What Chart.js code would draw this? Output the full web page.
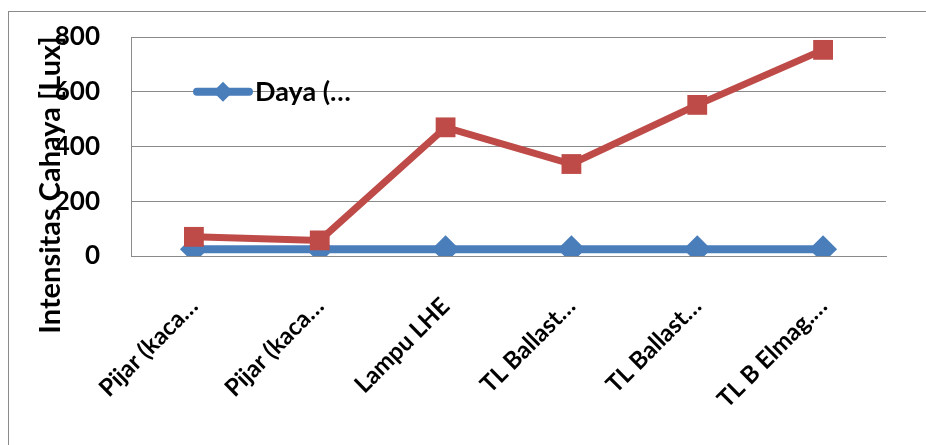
<!DOCTYPE html>
<html>
<head>
<meta charset="utf-8">
<script src="https://cdn.jsdelivr.net/npm/chart.js@4"></script>
<style>
  html, body { margin: 0; padding: 0; overflow: hidden; background: #fff; }
  #wrap { position: relative; width: 926px; height: 445px; }
  #frame { position: absolute; left: 8px; top: 11px; width: 1000px; height: 1000px; border: 1px solid #8a8a8a; }
  canvas { position: absolute; left: 0; top: 0; }
</style>
</head>
<body>
<div id="wrap">
  <div id="frame"></div>
  <canvas id="chart" width="926" height="445"></canvas>
</div>
<script>
const categories = ['Pijar (kaca…', 'Pijar (kaca…', 'Lampu LHE', 'TL Ballast…', 'TL Ballast…', 'TL B Elmag.…'];
const dayaValues = [25, 25, 25, 25, 25, 25];
const intensitasValues = [70, 57, 470, 336, 552, 753];
const yTicks = [0, 200, 400, 600, 800];

const BLUE = '#4A7EBB';
const RED = '#BE4B48';
const FONT = 'Lato, "Open Sans", sans-serif';

// legend and y title are drawn by hand: they sit over the plot like the original
const overlay = {
  id: 'overlay',
  afterDraw(chart) {
    const ctx = chart.ctx;
    const area = chart.chartArea;
    ctx.save();

    // y axis title
    ctx.translate(51, 185);
    ctx.rotate(-Math.PI / 2);
    ctx.font = 'bold 29px ' + FONT;
    ctx.fillStyle = '#000';
    ctx.textAlign = 'center';
    ctx.textBaseline = 'middle';
    ctx.fillText('Intensitas Cahaya [Lux]', 0, 0);
    ctx.restore();

    // legend entry
    ctx.save();
    const ly = chart.scales.y.getPixelForValue(600);
    const lx = area.left + 62;
    ctx.strokeStyle = BLUE;
    ctx.lineWidth = 8;
    ctx.lineCap = 'round';
    ctx.beginPath();
    ctx.moveTo(lx + 4, ly);
    ctx.lineTo(lx + 56, ly);
    ctx.stroke();
    ctx.fillStyle = BLUE;
    ctx.beginPath();
    ctx.moveTo(lx + 30, ly - 10);
    ctx.lineTo(lx + 40, ly);
    ctx.lineTo(lx + 30, ly + 10);
    ctx.lineTo(lx + 20, ly);
    ctx.closePath();
    ctx.fill();
    ctx.font = 'bold 27px ' + FONT;
    ctx.fillStyle = '#000';
    ctx.textBaseline = 'middle';
    ctx.fillText('Daya (…', lx + 62, ly + 1);
    ctx.restore();
  }
};

new Chart(document.getElementById('chart'), {
  type: 'line',
  data: {
    labels: categories,
    datasets: [
      {
        label: 'Daya (…',
        data: dayaValues,
        borderColor: BLUE,
        backgroundColor: BLUE,
        borderWidth: 8,
        pointStyle: 'rectRot',
        pointRadius: 14,
        pointBorderWidth: 0,
        order: 1
      },
      {
        label: 'Intensitas Cahaya',
        data: intensitasValues,
        borderColor: RED,
        backgroundColor: RED,
        borderWidth: 7,
        pointStyle: 'rect',
        pointRadius: 14,
        pointBorderWidth: 0,
        order: 0
      }
    ]
  },
  options: {
    responsive: false,
    animation: false,
    layout: { padding: { top: 37, right: 40, left: 0, bottom: 0 } },
    plugins: {
      legend: { display: false },
      tooltip: { enabled: false }
    },
    scales: {
      x: {
        offset: true,
        grid: { display: false, drawTicks: false },
        border: { display: true, color: '#8a8a8a', width: 1 },
        ticks: {
          autoSkip: false,
          maxRotation: 45,
          minRotation: 45,
          padding: 36,
          color: '#000',
          font: { family: FONT, size: 24, weight: 'bold' }
        },
        afterFit(scale) { scale.height = 189; }
      },
      y: {
        min: 0,
        max: 800,
        afterBuildTicks(scale) { scale.ticks = yTicks.map(v => ({ value: v })); },
        grid: { color: '#8a8a8a', lineWidth: 1, drawTicks: false },
        border: { display: true, color: '#8a8a8a', width: 1 },
        ticks: {
          padding: 31,
          color: '#000',
          font: { family: FONT, size: 26, weight: 'bold' }
        },
        afterFit(scale) {
          scale.width = 131;
          scale.paddingTop = 0;
          scale.paddingBottom = 0;
        }
      }
    }
  },
  plugins: [overlay]
});
</script>
</body>
</html>
